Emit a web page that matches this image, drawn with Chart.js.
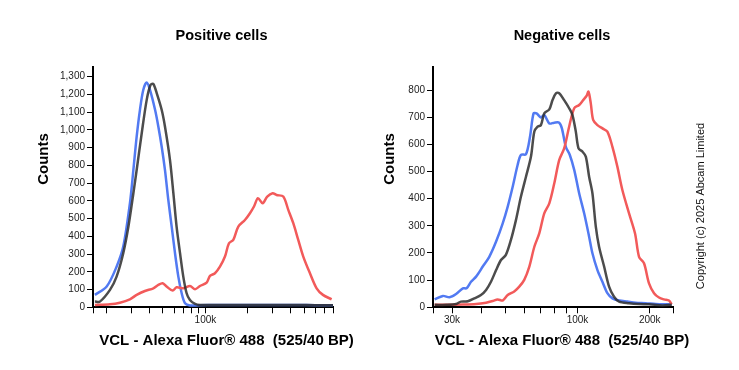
<!DOCTYPE html>
<html><head><meta charset="utf-8">
<script src="https://cdn.jsdelivr.net/npm/chart.js@4/dist/chart.umd.min.js"></script>
<style>
html,body{margin:0;padding:0;background:#fff;}
#wrap{position:relative;width:739px;height:370px;background:#fff;}
canvas{position:absolute;top:0;}
</style></head><body>
<div id="wrap">
<canvas id="c1" width="370" height="370" style="left:0px"></canvas>
<canvas id="c2" width="369" height="370" style="left:370px"></canvas>
</div>
<script>
// ---- texts ----
const panelTitles = ['Positive cells', 'Negative cells'];
const xAxisTitle = 'VCL - Alexa Fluor® 488  (525/40 BP)';
const yAxisTitle = 'Counts';
const copyrightText = 'Copyright (c) 2025 Abcam Limited';

// ---- Positive cells (x in thousands, log axis) ----
const posXTicks = [16, 20, 30, 40, 50, 60, 70, 80, 90, 100, 200, 300, 400, 500, 600, 700, 800];
const posXTickLabels = ['', '', '', '', '', '', '', '', '', '100k', '', '', '', '', '', '', ''];
const posYTicks = [0, 100, 200, 300, 400, 500, 600, 700, 800, 900, 1000, 1100, 1200, 1300];
const posYTickLabels = ['0', '100', '200', '300', '400', '500', '600', '700', '800', '900', '1,000', '1,100', '1,200', '1,300'];

const posBlueX = [16.5,20.0,23.5,26.2,29.2,30.9,32.6,34.4,36.3,38.4,40.5,44.0,46.4,49.0,51.7,54.6,57.7,60.9,64.3,67.9,71.7,77.7,90,120,200,300,450,600,800];
const posBlueY = [70,117,229,342,586,774,962,1113,1225,1267,1225,1113,1019,906,774,605,455,305,173,79,23,10,12,13,13,13,13,12,12];

const posDarkX = [16.5,17.9,21.1,23.5,26.2,28.5,30.9,32.6,35.4,38.4,40.9,42.8,45.2,49.0,51.7,56.1,59.3,62.5,66.1,69.7,73.6,77.7,84.4,91.5,120,200,300,450,600,800];
const posDarkY = [32,32,98,173,305,455,643,774,981,1169,1254,1259,1207,1113,1019,831,643,455,305,173,79,41,19,13,13,13,13,13,12,12];

const posRedX = [16.5,21.1,24.8,29.2,32.6,37.3,42.8,46.4,49.8,53.1,58.6,62.5,69.7,77.7,84.4,91.5,102,107.7,116.8,126.7,137.5,146.8,157.5,170.9,190.4,206.6,220.6,235.5,254,274,299,319,355.7,386,418.7,454,492.8,549.4,612.5,679,782];
const posRedY = [13,17,26,45,70,92,107,126,135,117,94,113,107,120,102,120,139,177,192,229,286,361,380,455,492,530,568,615,586,624,643,633,624,549,474,380,286,192,107,70,45];

// ---- Negative cells ----
const negXTicks = [25, 30, 40, 50, 60, 70, 80, 90, 100, 200, 250];
const negXTickLabels = ['', '30k', '', '', '', '', '', '', '100k', '200k', ''];
const negYTicks = [0, 100, 200, 300, 400, 500, 600, 700, 800];
const negYTickLabels = ['0', '100', '200', '300', '400', '500', '600', '700', '800'];

const negBlueX = [25.4,27.5,29.3,31.2,33.3,34.5,36.0,37.8,40.3,42.9,45.8,48.8,51.2,53.7,56.3,58.1,61.0,63.4,65.6,67.5,70.4,72.7,76.3,80.0,83.9,86.1,89.4,92.9,96.9,101.6,106.6,111.8,115.4,121.1,127,133.2,139.8,149,161.4,174.8,192.3,211.7,233,247];
const negBlueY = [29,42,37,49,70,70,94,113,150,186,242,309,371,444,524,561,564,628,714,714,699,708,677,680,680,659,591,561,506,420,346,260,199,137,94,52,33,25,21,17,15,12,11,11];

const negDarkX = [25.4,28.4,31.2,32.7,34.9,37.2,39.6,41.6,43.6,45.8,48.0,50.3,52.8,55.4,58.1,61.0,64.0,66.1,68.2,70.4,72.7,76.3,78.7,81.3,83.9,88.0,92.3,95.3,98.4,101,104.9,108.3,111.8,115.4,119.2,123,129.1,135.4,142,149,164,180.5,198.6,225.6,247];
const negDarkY = [9,9,12,21,22,33,45,64,94,137,174,193,248,321,407,481,555,647,665,671,714,729,763,788,788,763,733,708,647,585,573,555,481,420,297,223,150,76,39,21,15,12,11,7,9];

const negRedX = [25.4,28.4,33.3,37.8,41.6,44.3,46.5,48.8,51.2,54.5,57.2,60.0,63.0,66.1,69.3,72.7,76.3,80.0,83.9,88.0,92.3,96.9,101.6,105.6,109,111.1,113.6,116.2,121.1,127,133.2,139.8,146.6,153.8,164,173.7,180.5,189.3,198.6,208.4,218.6,229.3,240.5,247];
const negRedY = [9,9,10,12,17,23,29,25,45,58,76,101,150,223,272,346,383,456,542,585,665,733,745,763,778,794,751,690,671,659,647,591,518,432,346,272,186,162,88,52,36,29,25,11];

// ---- styling ----
const BLUE = 'rgb(82,122,242)';
const RED = 'rgb(242,90,90)';
const DARK = 'rgba(45,45,45,0.85)';
const FONT = "'Liberation Sans', Arial, Helvetica, sans-serif";

const pts = (xs, ys) => xs.map((x, i) => ({x: x, y: ys[i]}));

// Chart.js paints dataset 0 last (on top): list dark first, blue last.
function lineDs(label, xs, ys, color) {
  return {label: label, data: pts(xs, ys), borderColor: color, backgroundColor: color,
    borderWidth: 2.5, pointRadius: 0, tension: 0.3, fill: false};
}

function makeTextPlugin(items) {
  return {
    id: 'texts',
    afterDraw(chart) {
      const ctx = chart.ctx;
      items.forEach(t => {
        ctx.save();
        ctx.translate(t.x, t.y);
        if (t.rot) ctx.rotate(t.rot);
        ctx.font = t.font;
        ctx.fillStyle = t.color || '#000';
        ctx.textAlign = 'center';
        ctx.textBaseline = 'middle';
        ctx.fillText(t.text, 0, 0);
        ctx.restore();
      });
    }
  };
}

function makeChart(id, cfg) {
  const axisCommon = {
    grid: {drawOnChartArea: false, drawTicks: true, tickLength: 6, color: '#000', lineWidth: 1},
    border: {display: true, color: '#000', width: 2}
  };
  return new Chart(document.getElementById(id), {
    type: 'line',
    data: {datasets: cfg.datasets},
    options: {
      responsive: false, animation: false,
      layout: {padding: {top: 66.7, right: cfg.padRight, left: 0, bottom: 0}},
      plugins: {legend: {display: false}, tooltip: {enabled: false}, title: {display: false}},
      scales: {
        x: Object.assign({}, axisCommon, {
          type: 'logarithmic', min: cfg.xMin, max: cfg.xMax,
          afterBuildTicks: s => { s.ticks = cfg.xTicks.map(v => ({value: v})); },
          afterFit: s => { s.height = 62.7; },
          ticks: {autoSkip: false, maxRotation: 0, minRotation: 0, padding: 1, color: '#222',
            font: {family: FONT, size: 10}, callback: (v, i) => cfg.xLabels[i]}
        }),
        y: Object.assign({}, axisCommon, {
          type: 'linear', min: 0, max: cfg.yMax,
          afterBuildTicks: s => { s.ticks = cfg.yTicks.map(v => ({value: v})); },
          afterFit: s => { s.width = cfg.yWidth; },
          ticks: {padding: 2, color: '#222', font: {family: FONT, size: 10},
            callback: (v, i) => cfg.yLabels[i]}
        })
      }
    },
    plugins: [makeTextPlugin(cfg.texts)]
  });
}

const titleFont = 'bold 14.5px ' + FONT;
const axisFont = 'bold 15px ' + FONT;

makeChart('c1', {
  datasets: [
    lineDs('Dark', posDarkX, posDarkY, DARK),
    lineDs('Red', posRedX, posRedY, RED),
    lineDs('Blue', posBlueX, posBlueY, BLUE)
  ],
  xMin: 16, xMax: 800, xTicks: posXTicks, xLabels: posXTickLabels,
  yMax: 1356, yTicks: posYTicks, yLabels: posYTickLabels,
  yWidth: 93, padRight: 37,
  texts: [
    {text: panelTitles[0], x: 221.5, y: 35.5, font: titleFont},
    {text: yAxisTitle, x: 43.5, y: 159, rot: -Math.PI / 2, font: axisFont},
    {text: xAxisTitle, x: 226.5, y: 340.5, font: axisFont}
  ]
});

makeChart('c2', {
  datasets: [
    lineDs('Dark', negDarkX, negDarkY, DARK),
    lineDs('Red', negRedX, negRedY, RED),
    lineDs('Blue', negBlueX, negBlueY, BLUE)
  ],
  xMin: 25, xMax: 250, xTicks: negXTicks, xLabels: negXTickLabels,
  yMax: 886, yTicks: negYTicks, yLabels: negYTickLabels,
  yWidth: 63, padRight: 66,
  texts: [
    {text: panelTitles[1], x: 192, y: 35.5, font: titleFont},
    {text: yAxisTitle, x: 20, y: 159, rot: -Math.PI / 2, font: axisFont},
    {text: xAxisTitle, x: 192, y: 340.5, font: axisFont},
    {text: copyrightText, x: 331, y: 206, rot: -Math.PI / 2, font: '11px ' + FONT, color: '#111'}
  ]
});
</script>
</body></html>
